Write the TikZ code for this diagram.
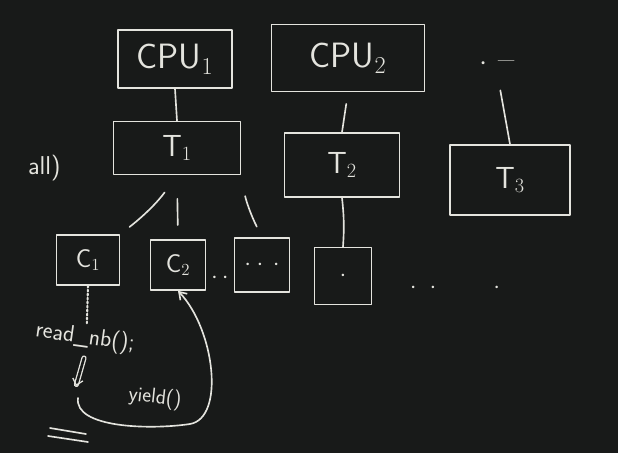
\documentclass[tikz,border=0pt]{standalone}
\usetikzlibrary{arrows.meta}
\definecolor{board}{RGB}{24,26,25}
\definecolor{chalk}{RGB}{228,228,222}
\tikzset{
  chalk/.style={draw=chalk,line width=1.4pt,line cap=round,line join=round},
  chalkbox/.style={chalk,rectangle,text=chalk,inner sep=0pt},
  chalktext/.style={text=chalk,inner sep=1pt},
}
\begin{document}
\begin{tikzpicture}[x=0.03cm,y=-0.03cm,font=\sffamily,>={Straight Barb[length=6pt,width=8pt]}]
\fill[board] (0,0) rectangle (618,453);
\useasboundingbox (0,0) rectangle (618,453);
% processors
\node[chalkbox,minimum width=3.42cm,minimum height=1.74cm,font=\sffamily\fontsize{30}{34}\selectfont] (cpu1) at (175,59) {CPU$_1$};
\node[chalkbox,minimum width=4.59cm,minimum height=2.01cm,font=\sffamily\fontsize{30}{34}\selectfont] (cpu2) at (348,58) {CPU$_2$};
\node[chalktext,font=\fontsize{30}{34}\selectfont] (cpudots) at (497,64) {$\cdot$\ --};
% kernel threads
\node[chalkbox,minimum width=3.81cm,minimum height=1.59cm,font=\sffamily\fontsize{26}{30}\selectfont] (t1) at (177,148) {T$_1$};
\node[chalkbox,minimum width=3.45cm,minimum height=1.92cm,font=\sffamily\fontsize{26}{30}\selectfont] (t2) at (342,165) {T$_2$};
\node[chalkbox,minimum width=3.6cm,minimum height=2.1cm,font=\sffamily\fontsize{26}{30}\selectfont] (t3) at (510,180) {T$_3$};
\node[chalktext,font=\sffamily\fontsize{22}{26}\selectfont,anchor=east] (all) at (62,168) {all)};
% coroutines
\node[chalkbox,minimum width=1.89cm,minimum height=1.5cm,font=\sffamily\fontsize{22}{26}\selectfont] (c1) at (88,260) {C$_1$};
\node[chalkbox,minimum width=1.65cm,minimum height=1.5cm,font=\sffamily\fontsize{22}{26}\selectfont] (c2) at (178,265) {C$_2$};
\node[chalkbox,minimum width=1.65cm,minimum height=1.62cm,font=\sffamily\fontsize{22}{26}\selectfont] (c3) at (262,265) {$\cdot\cdot\,\cdot$};
\node[chalkbox,minimum width=1.71cm,minimum height=1.71cm,font=\sffamily\fontsize{22}{26}\selectfont] (c4) at (343,276) {$\cdot$};
\node[chalktext,font=\fontsize{22}{26}\selectfont] (cdots) at (220,278) {$\cdot\,\cdot$};
\node[chalktext,font=\fontsize{22}{26}\selectfont] (moredots) at (455,288) {$\cdot\ \cdot\qquad\cdot$};
% calls
\node[chalktext,font=\sffamily\fontsize{20}{24}\selectfont,rotate=-8] (readnb) at (85,338) {read\_nb();};
\node[chalktext,font=\sffamily\fontsize{18}{22}\selectfont,rotate=-6] (yield) at (155,398) {yield()};
\coordinate (ytail) at (84,358);
\coordinate (ytip) at (76,386);
\coordinate (yfoot) at (78,398);
% connectors
\draw[chalk] (cpu1.south) -- (t1.north);
\draw[chalk,shorten <=10pt] (cpu2.south) -- (t2.north);
\draw[chalk,shorten <=16pt] (cpudots.south) -- (t3.north);
\draw[chalk,shorten <=18pt,shorten >=10pt] (t1.south) to[bend left=8] (c1.north east);
\draw[chalk,shorten <=20pt,shorten >=12pt] (t1.south) -- (c2.north);
\draw[chalk,shorten <=18pt,shorten >=10pt] (t1.south east) to[bend right=8] (c3.north);
\draw[chalk] (t2.south) to[bend left=5] (c4.north);
\draw[chalk,dotted,line width=1.8pt] (c1.south) -- (readnb.north);
\draw[chalk,line width=1.1pt,double=board,double distance=2.2pt,-{Straight Barb[length=5pt,width=9pt]}] (ytail) -- (ytip);
\draw[chalk,->] (yfoot) .. controls (74,428) and (150,430) .. (190,424)
  .. controls (225,418) and (215,330) .. (c2.south);
% ground marks
\draw[chalk] (50,428) -- (86,434);
\draw[chalk] (48,436) -- (88,442);
\end{tikzpicture}
\end{document}
